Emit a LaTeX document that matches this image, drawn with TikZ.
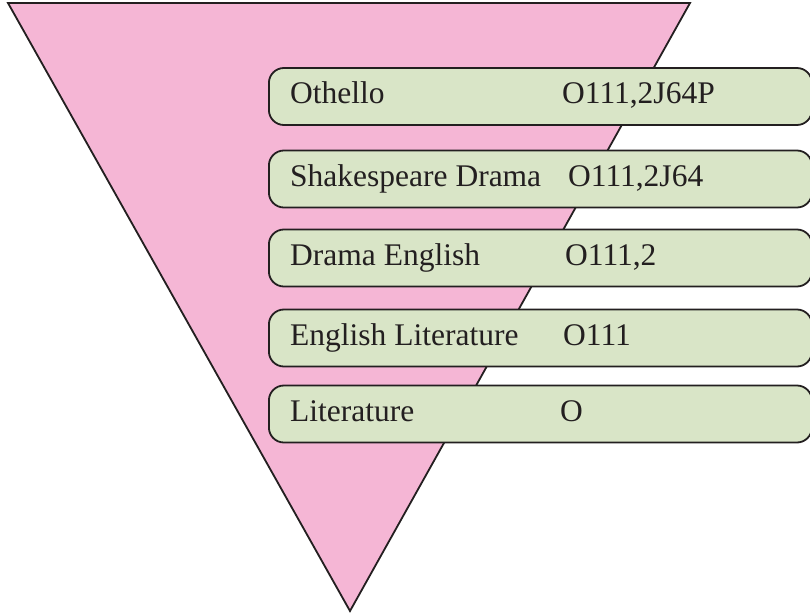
\documentclass[tikz,border=0pt]{standalone}
\usepackage{fontspec}
\setmainfont{Liberation Serif}
\definecolor{pinkfill}{HTML}{F5B6D5}
\definecolor{greenfill}{HTML}{D9E5C7}
\definecolor{inkc}{HTML}{231F20}
\begin{document}
\begin{tikzpicture}[x=1pt,y=-1pt,
  rowbox/.style={draw=inkc,line width=1.8pt,fill=greenfill,rounded corners=15pt,rectangle,
    minimum width=543pt,minimum height=57pt,inner sep=0pt,anchor=west},
  lbl/.style={inner sep=0pt,anchor=base west,text=inkc,font=\fontsize{31.5}{36}\selectfont}]
\useasboundingbox (0,0) rectangle (810,613);
\coordinate (tl) at (8,3);
\coordinate (tr) at (690,3);
\coordinate (bt) at (350,611);
\draw[draw=inkc,line width=1.8pt,fill=pinkfill,line join=miter] (tl) -- (tr) -- (bt) -- cycle;
\node[rowbox] (b1) at (268,96.5) {};
\node[rowbox] (b2) at (268,179) {};
\node[rowbox] (b3) at (268,258) {};
\node[rowbox] (b4) at (268,338) {};
\node[rowbox] (b5) at (268,414) {};
\node[lbl] (t1) at (290,103.5) {Othello};
\node[lbl] (t2) at (290,186) {Shakespeare Drama};
\node[lbl] (t3) at (290,265) {Drama English};
\node[lbl] (t4) at (290,345) {English Literature};
\node[lbl] (t5) at (290,421) {Literature};
\node[lbl] (c1) at (562,103.5) {O111,2J64P};
\node[lbl] (c2) at (568,186) {O111,2J64};
\node[lbl] (c3) at (565,265) {O111,2};
\node[lbl] (c4) at (563,345) {O111};
\node[lbl] (c5) at (560,421) {O};
\end{tikzpicture}
\end{document}
